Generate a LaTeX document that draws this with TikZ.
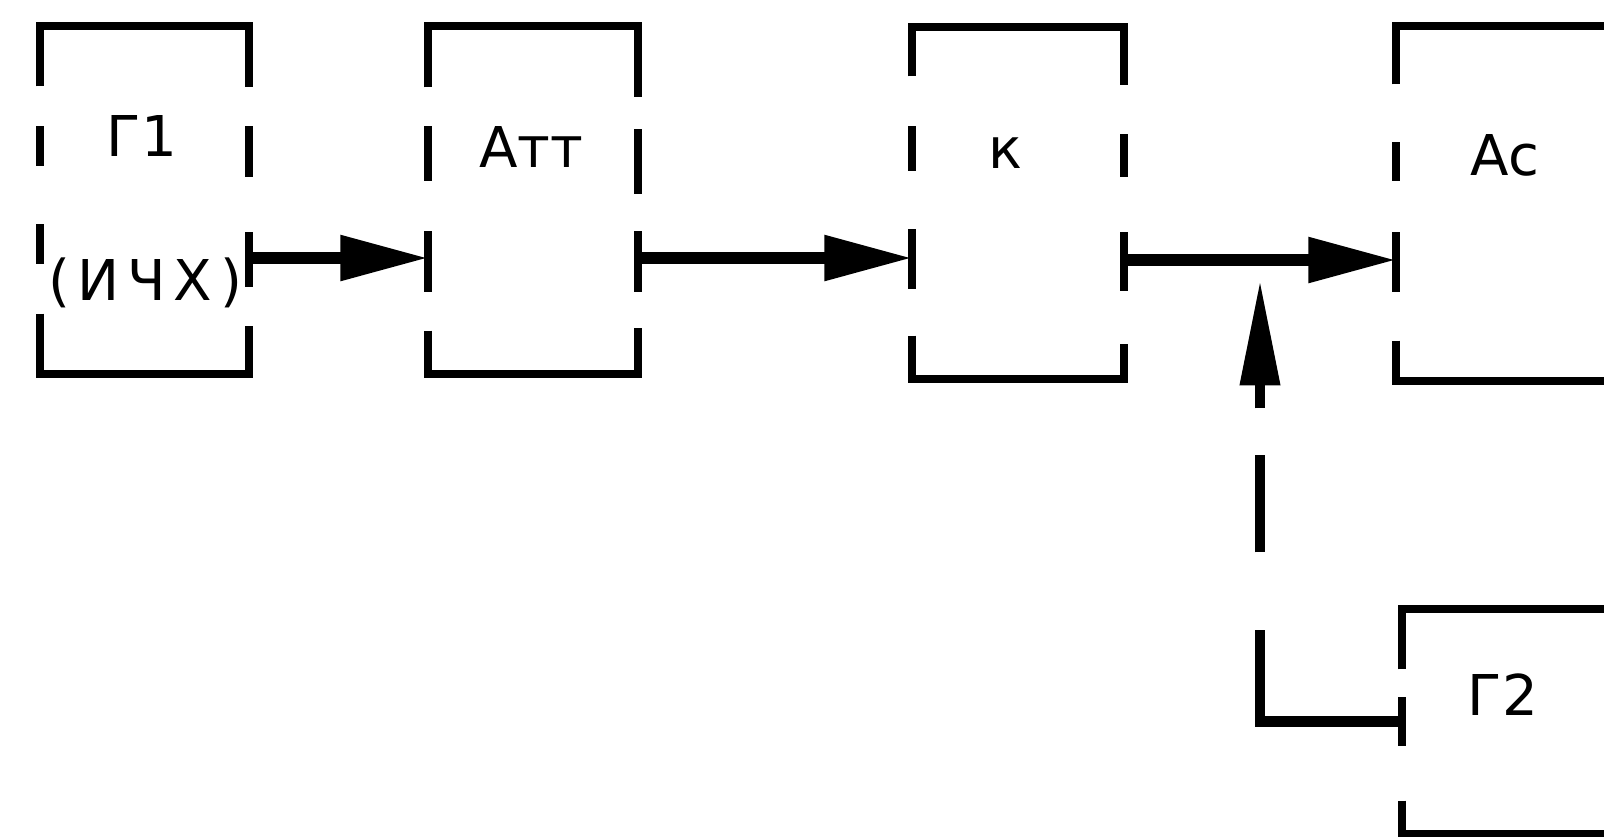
\documentclass[tikz,border=0pt]{standalone}
\usepackage{fontspec}
\setmainfont{DejaVu Sans}
\usetikzlibrary{arrows.meta,calc}
\tikzset{
  blk/.style={rectangle, draw=none, inner sep=0pt},
  lbl/.style={inner sep=0pt, font=\fontsize{16}{19}\selectfont},
  boxline/.style={line width=2.3pt, line join=miter, line cap=butt},
  conn/.style={line width=3.4pt},
  arr/.style={conn, -{Triangle[length=0.88cm,width=0.43cm]}},
  varr/.style={line width=2.9pt, -{Triangle[length=1.05cm,width=0.38cm]}},
  vconn/.style={line width=2.9pt},
}
\newcommand\bxtop[3]{\draw[boxline] ([yshift=-#2cm]#1.north west) -- (#1.north west) -- (#1.north east) -- ([yshift=-#3cm]#1.north east);}
\newcommand\bxbot[3]{\draw[boxline] ([yshift=#2cm]#1.south west) -- (#1.south west) -- (#1.south east) -- ([yshift=#3cm]#1.south east);}
\newcommand\bxtopo[2]{\draw[boxline] ([yshift=-#2cm]#1.north west) -- (#1.north west) -- (#1.north east);}
\newcommand\bxboto[2]{\draw[boxline] ([yshift=#2cm]#1.south west) -- (#1.south west) -- (#1.south east);}
\newcommand\bxl[3]{\draw[boxline] ([yshift=-#2cm]#1.north west) -- ([yshift=-#3cm]#1.north west);}
\newcommand\bxr[3]{\draw[boxline] ([yshift=-#2cm]#1.north east) -- ([yshift=-#3cm]#1.north east);}
\begin{document}
\begin{tikzpicture}
\useasboundingbox (0,0) rectangle (16.04,-8.36);
\clip (0,0) rectangle (16.04,-8.36);
\fill[white] (0,0) rectangle (16.04,-8.36);

% blocks
\node[blk, minimum width=2.07cm, minimum height=3.46cm] (g1) at (1.445,-2.00) {};
\node[blk, minimum width=2.08cm, minimum height=3.46cm] (att) at (5.33,-2.00) {};
\node[blk, minimum width=2.10cm, minimum height=3.50cm] (k) at (10.18,-2.03) {};
\node[blk, minimum width=2.20cm, minimum height=3.53cm] (ac) at (15.07,-2.035) {};
\node[blk, minimum width=2.20cm, minimum height=2.23cm] (g2) at (15.13,-7.215) {};

% outlines of G1
\bxtop{g1}{0.60}{0.61}
\bxbot{g1}{0.60}{0.48}
\bxl{g1}{1.00}{1.40}
\bxl{g1}{1.98}{2.38}
\bxr{g1}{1.00}{1.51}
\bxr{g1}{2.06}{2.61}
% Att
\bxtop{att}{0.61}{0.71}
\bxbot{att}{0.43}{0.46}
\bxl{att}{1.00}{1.55}
\bxl{att}{2.05}{2.66}
\bxr{att}{1.03}{1.68}
\bxr{att}{2.05}{2.66}
% K
\bxtop{k}{0.49}{0.58}
\bxbot{k}{0.43}{0.35}
\bxl{k}{0.99}{1.44}
\bxl{k}{2.02}{2.62}
\bxr{k}{1.07}{1.50}
\bxr{k}{2.05}{2.64}
% Ac
\bxtopo{ac}{0.58}
\bxboto{ac}{0.40}
\bxl{ac}{1.16}{1.55}
\bxl{ac}{2.06}{2.66}
% G2
\bxtopo{g2}{0.60}
\bxboto{g2}{0.33}
\bxl{g2}{0.88}{1.37}

% labels
\node[lbl] (g1a) at (1.42,-1.36) {Г1};
\node[lbl] (g1b) at (1.45,-2.83) {(\kern2.2ptИ\kern2.2ptЧ\kern2.2ptХ\kern2.2pt)};
\node[lbl] (attl) at (5.31,-1.47) {Атт};
\node[lbl] (kl) at (10.05,-1.53) {к};
\node[lbl] (acl) at (15.05,-1.55) {Ас};
\node[lbl] (g2l) at (15.03,-6.95) {Г2};

% connectors
\draw[arr] ([yshift=-0.58cm]g1.east) -- ([yshift=-0.58cm]g1.east -| att.west);
\draw[arr] ([yshift=-0.58cm]att.east) -- ([yshift=-0.58cm]att.east -| k.west);
\draw[arr] ([yshift=-0.57cm]k.east) -- ([yshift=-0.57cm]k.east -| ac.west);

\coordinate (tip) at ($(k.east)!0.5!(ac.west) + (0,-0.77)$);
\coordinate (corner) at (tip |- g2.west);
\coordinate (d1) at ($(corner)+(0,0.92)$);
\coordinate (d2) at ($(tip)+(0,-2.72)$);
\coordinate (d3) at ($(tip)+(0,-1.75)$);
\coordinate (d4) at ($(tip)+(0,-1.28)$);
\draw[vconn, line join=miter] (g2.west) -- (corner) -- (d1);
\draw[vconn] (d2) -- (d3);
\draw[varr] (d4) -- (tip);
\end{tikzpicture}
\end{document}
